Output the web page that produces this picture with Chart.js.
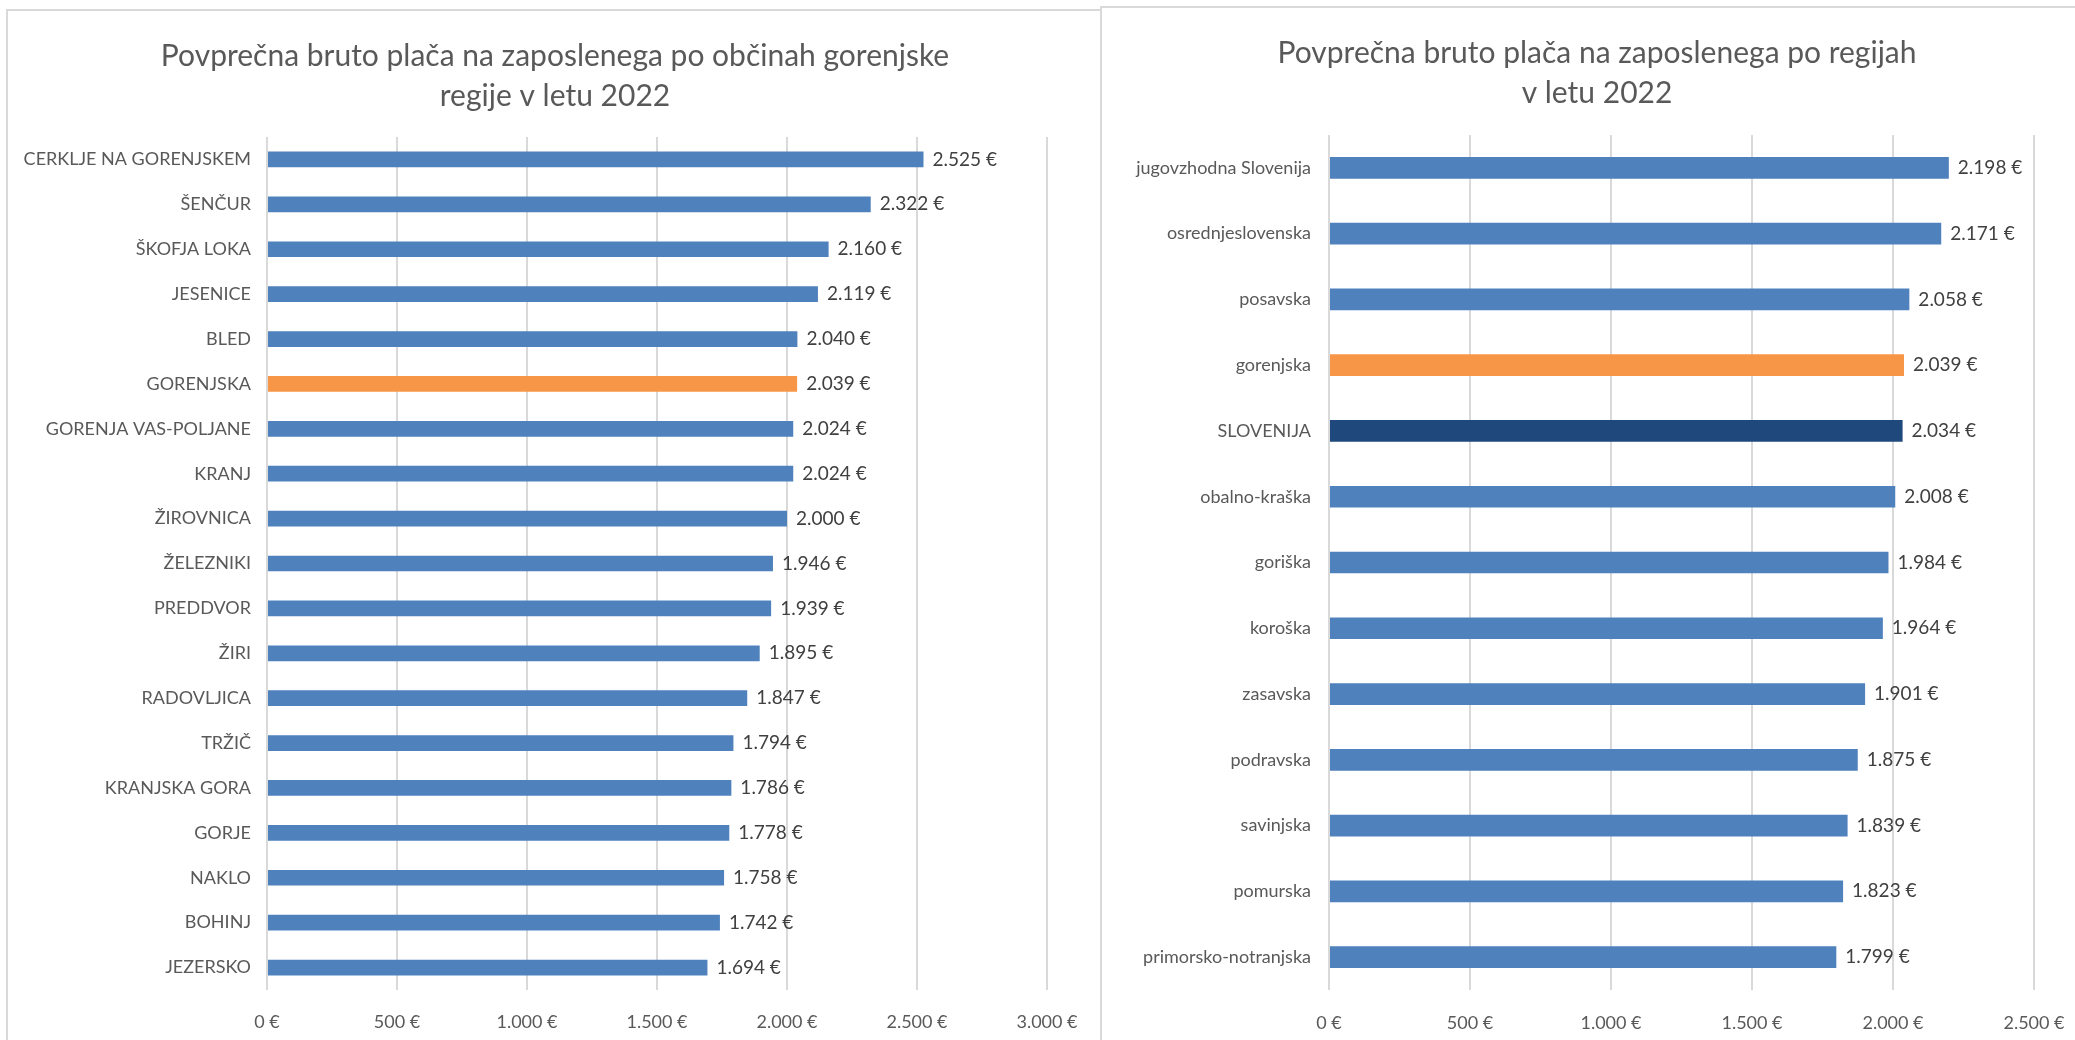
<!DOCTYPE html>
<html lang="sl">
<head>
<meta charset="utf-8">
<title>Povprečna bruto plača na zaposlenega</title>
<script src="https://cdn.jsdelivr.net/npm/chart.js"></script>
<style>
  html, body { margin: 0; padding: 0; background: #fff; width: 2075px; height: 1040px; overflow: hidden; }
  .panel { position: absolute; border: 2px solid #d9d9d9; background: #fff; }
  #leftPanel { left: 6px; top: 9px; width: 1094px; height: 1060px; }
  #rightPanel { left: 1100px; top: 6px; width: 990px; height: 1060px; }
  canvas { display: block; }
</style>
</head>
<body>
<div class="panel" id="leftPanel"><canvas id="obcine" width="1094" height="1040"></canvas></div>
<div class="panel" id="rightPanel"><canvas id="regije" width="990" height="1040"></canvas></div>
<script>
// občine gorenjske regije
const obcine = ["CERKLJE NA GORENJSKEM", "ŠENČUR", "ŠKOFJA LOKA", "JESENICE", "BLED", "GORENJSKA",
    "GORENJA VAS-POLJANE", "KRANJ", "ŽIROVNICA", "ŽELEZNIKI", "PREDDVOR", "ŽIRI", "RADOVLJICA",
    "TRŽIČ", "KRANJSKA GORA", "GORJE", "NAKLO", "BOHINJ", "JEZERSKO"];
const placeObcine = [2525, 2322, 2160, 2119, 2040, 2039, 2024, 2024, 2000, 1946, 1939, 1895, 1847,
    1794, 1786, 1778, 1758, 1742, 1694];
const ticksObcine = [0, 500, 1000, 1500, 2000, 2500, 3000];

// regije
const regije = ["jugovzhodna Slovenija", "osrednjeslovenska", "posavska", "gorenjska", "SLOVENIJA",
    "obalno-kraška", "goriška", "koroška", "zasavska", "podravska", "savinjska", "pomurska",
    "primorsko-notranjska"];
const placeRegije = [2198, 2171, 2058, 2039, 2034, 2008, 1984, 1964, 1901, 1875, 1839, 1823, 1799];
const ticksRegije = [0, 500, 1000, 1500, 2000, 2500];

const BLUE = "#4f81bd";
const ORANGE = "#f79646";
const NAVY = "#1f497d";
const TEXT = "#595959";

function eur(v) {
    return String(v).replace(/\B(?=(\d{3})+(?!\d))/g, ".") + " €";
}

function barColor(label) {
    if (label.toLowerCase() === "gorenjska") return ORANGE;
    if (label === "SLOVENIJA") return NAVY;
    return BLUE;
}

// vrednosti ob koncu stolpcev
const valueLabels = {
    id: "valueLabels",
    afterDatasetsDraw(chart) {
        const ctx = chart.ctx;
        const ds = chart.data.datasets[0];
        ctx.save();
        ctx.font = "19px Lato";
        ctx.fillStyle = "#404040";
        ctx.textAlign = "left";
        ctx.textBaseline = "middle";
        chart.getDatasetMeta(0).data.forEach((bar, i) => {
            ctx.fillText(eur(ds.data[i]), bar.x + 9, bar.y);
        });
        ctx.restore();
    }
};

function drawChart(id, labels, values, tickValues, o) {
    const font = { family: "Lato", size: 18 };
    return new Chart(document.getElementById(id), {
        type: "bar",
        data: {
            labels: labels,
            datasets: [{
                data: values,
                backgroundColor: labels.map(barColor),
                barPercentage: o.barPct,
                categoryPercentage: 1
            }]
        },
        options: {
            indexAxis: "y",
            responsive: false,
            animation: false,
            layout: { padding: 0 },
            plugins: {
                legend: { display: false },
                tooltip: { enabled: false },
                title: {
                    display: true,
                    text: o.title,
                    color: TEXT,
                    font: { family: "Lato", size: 30, weight: "normal", lineHeight: 1.35 },
                    padding: { top: 25, bottom: o.titleBottom }
                }
            },
            scales: {
                x: {
                    min: tickValues[0],
                    max: tickValues[tickValues.length - 1],
                    afterBuildTicks: s => { s.ticks = tickValues.map(v => ({ value: v })); },
                    ticks: { callback: v => eur(v), color: TEXT, font: font, padding: o.xPad, maxRotation: 0 },
                    grid: { color: "#d9d9d9", lineWidth: 2, drawTicks: false },
                    border: { display: false },
                    afterFit: s => { s.height = o.xHeight; s.paddingRight = o.padRight; s.paddingLeft = 0; }
                },
                y: {
                    ticks: { color: TEXT, font: font, padding: o.yPad },
                    grid: { display: false, drawTicks: false },
                    border: { display: false },
                    afterFit: s => { s.width = o.yWidth; }
                }
            }
        },
        plugins: [valueLabels]
    });
}

drawChart("obcine", obcine, placeObcine, ticksObcine, {
    title: ["Povprečna bruto plača na zaposlenega po občinah gorenjske", "regije v letu 2022"],
    titleBottom: 20, barPct: 0.35, xPad: 21, xHeight: 61, padRight: 55, yWidth: 259, yPad: 16
});

drawChart("regije", regije, placeRegije, ticksRegije, {
    title: ["Povprečna bruto plača na zaposlenega po regijah", "v letu 2022"],
    titleBottom: 21, barPct: 0.33, xPad: 22, xHeight: 58, padRight: 58, yWidth: 227, yPad: 18
});
</script>
</body>
</html>
